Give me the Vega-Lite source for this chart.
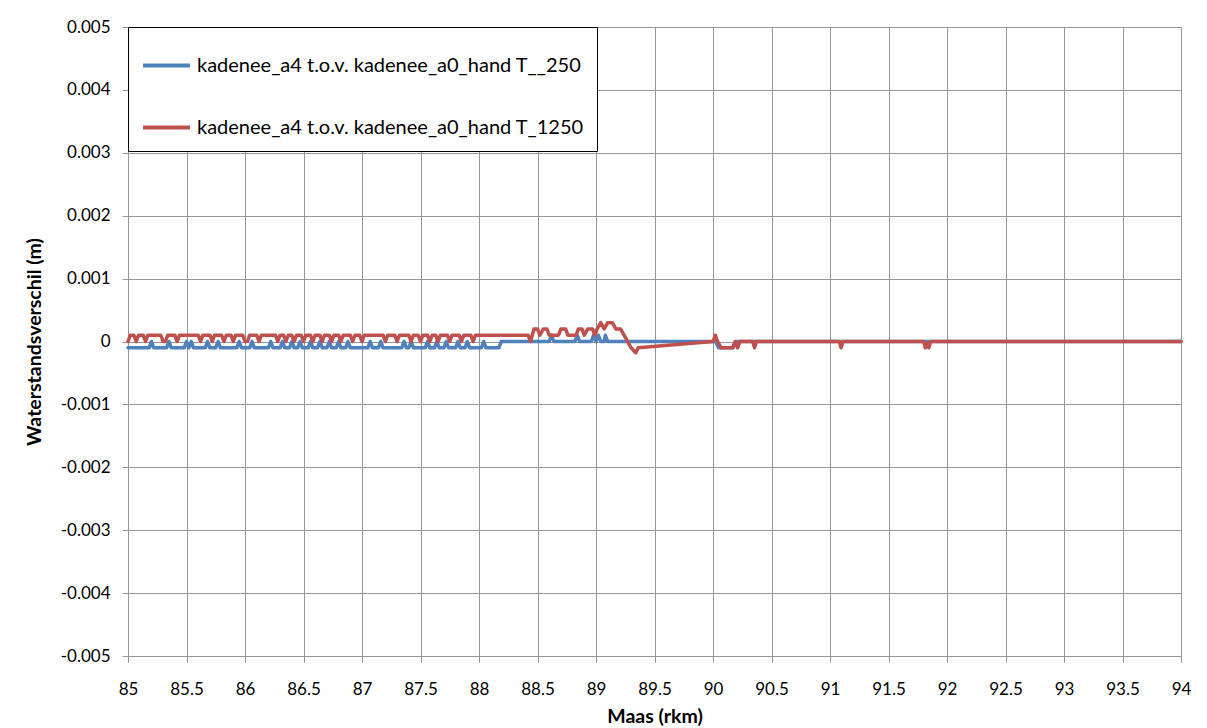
{
  "$schema": "https://vega.github.io/schema/vega-lite/v6.json",
  "width": 1053,
  "height": 629,
  "autosize": {"type": "none"},
  "padding": {"left": 128, "top": 27, "right": 26, "bottom": 72},
  "background": "white",
  "config": {
    "font": "Lato",
    "view": {"stroke": null},
    "axis": {
      "gridColor": "#969696",
      "gridWidth": 1,
      "domainColor": "#969696",
      "tickColor": "#969696",
      "tickSize": 6,
      "labelColor": "black",
      "labelFontSize": 17,
      "labelFont": "Lato",
      "titleFont": "Lato",
      "titleFontSize": 19.5,
      "titleFontWeight": "bold",
      "titleColor": "black"
    }
  },
  "data": {
    "values": [
      {"km": 85.00, "reeks": "T__250", "dh": -0.0001},
      {"km": 85.18, "reeks": "T__250", "dh": -0.0001},
      {"km": 85.20, "reeks": "T__250", "dh": 0},
      {"km": 85.22, "reeks": "T__250", "dh": -0.0001},
      {"km": 85.33, "reeks": "T__250", "dh": -0.0001},
      {"km": 85.35, "reeks": "T__250", "dh": 0},
      {"km": 85.37, "reeks": "T__250", "dh": -0.0001},
      {"km": 85.48, "reeks": "T__250", "dh": -0.0001},
      {"km": 85.50, "reeks": "T__250", "dh": 0},
      {"km": 85.52, "reeks": "T__250", "dh": -0.0001},
      {"km": 85.54, "reeks": "T__250", "dh": 0},
      {"km": 85.56, "reeks": "T__250", "dh": -0.0001},
      {"km": 85.66, "reeks": "T__250", "dh": -0.0001},
      {"km": 85.68, "reeks": "T__250", "dh": 0},
      {"km": 85.70, "reeks": "T__250", "dh": -0.0001},
      {"km": 85.75, "reeks": "T__250", "dh": -0.0001},
      {"km": 85.77, "reeks": "T__250", "dh": 0},
      {"km": 85.79, "reeks": "T__250", "dh": -0.0001},
      {"km": 85.93, "reeks": "T__250", "dh": -0.0001},
      {"km": 85.95, "reeks": "T__250", "dh": 0},
      {"km": 85.97, "reeks": "T__250", "dh": -0.0001},
      {"km": 86.04, "reeks": "T__250", "dh": -0.0001},
      {"km": 86.06, "reeks": "T__250", "dh": 0},
      {"km": 86.08, "reeks": "T__250", "dh": -0.0001},
      {"km": 86.20, "reeks": "T__250", "dh": -0.0001},
      {"km": 86.22, "reeks": "T__250", "dh": 0},
      {"km": 86.24, "reeks": "T__250", "dh": -0.0001},
      {"km": 86.30, "reeks": "T__250", "dh": -0.0001},
      {"km": 86.32, "reeks": "T__250", "dh": 0},
      {"km": 86.34, "reeks": "T__250", "dh": -0.0001},
      {"km": 86.38, "reeks": "T__250", "dh": -0.0001},
      {"km": 86.40, "reeks": "T__250", "dh": 0},
      {"km": 86.42, "reeks": "T__250", "dh": -0.0001},
      {"km": 86.45, "reeks": "T__250", "dh": -0.0001},
      {"km": 86.47, "reeks": "T__250", "dh": 0},
      {"km": 86.49, "reeks": "T__250", "dh": -0.0001},
      {"km": 86.54, "reeks": "T__250", "dh": -0.0001},
      {"km": 86.56, "reeks": "T__250", "dh": 0},
      {"km": 86.58, "reeks": "T__250", "dh": -0.0001},
      {"km": 86.62, "reeks": "T__250", "dh": -0.0001},
      {"km": 86.64, "reeks": "T__250", "dh": 0},
      {"km": 86.66, "reeks": "T__250", "dh": -0.0001},
      {"km": 86.70, "reeks": "T__250", "dh": -0.0001},
      {"km": 86.72, "reeks": "T__250", "dh": 0},
      {"km": 86.74, "reeks": "T__250", "dh": -0.0001},
      {"km": 86.78, "reeks": "T__250", "dh": -0.0001},
      {"km": 86.80, "reeks": "T__250", "dh": 0},
      {"km": 86.82, "reeks": "T__250", "dh": -0.0001},
      {"km": 86.86, "reeks": "T__250", "dh": -0.0001},
      {"km": 86.88, "reeks": "T__250", "dh": 0},
      {"km": 86.90, "reeks": "T__250", "dh": -0.0001},
      {"km": 87.05, "reeks": "T__250", "dh": -0.0001},
      {"km": 87.07, "reeks": "T__250", "dh": 0},
      {"km": 87.09, "reeks": "T__250", "dh": -0.0001},
      {"km": 87.14, "reeks": "T__250", "dh": -0.0001},
      {"km": 87.16, "reeks": "T__250", "dh": 0},
      {"km": 87.18, "reeks": "T__250", "dh": -0.0001},
      {"km": 87.34, "reeks": "T__250", "dh": -0.0001},
      {"km": 87.36, "reeks": "T__250", "dh": 0},
      {"km": 87.38, "reeks": "T__250", "dh": -0.0001},
      {"km": 87.40, "reeks": "T__250", "dh": -0.0001},
      {"km": 87.42, "reeks": "T__250", "dh": 0},
      {"km": 87.44, "reeks": "T__250", "dh": -0.0001},
      {"km": 87.54, "reeks": "T__250", "dh": -0.0001},
      {"km": 87.56, "reeks": "T__250", "dh": 0},
      {"km": 87.58, "reeks": "T__250", "dh": -0.0001},
      {"km": 87.62, "reeks": "T__250", "dh": -0.0001},
      {"km": 87.64, "reeks": "T__250", "dh": 0},
      {"km": 87.66, "reeks": "T__250", "dh": -0.0001},
      {"km": 87.70, "reeks": "T__250", "dh": -0.0001},
      {"km": 87.72, "reeks": "T__250", "dh": 0},
      {"km": 87.74, "reeks": "T__250", "dh": -0.0001},
      {"km": 87.80, "reeks": "T__250", "dh": -0.0001},
      {"km": 87.82, "reeks": "T__250", "dh": 0},
      {"km": 87.84, "reeks": "T__250", "dh": -0.0001},
      {"km": 87.88, "reeks": "T__250", "dh": -0.0001},
      {"km": 87.90, "reeks": "T__250", "dh": 0},
      {"km": 87.92, "reeks": "T__250", "dh": -0.0001},
      {"km": 88.02, "reeks": "T__250", "dh": -0.0001},
      {"km": 88.04, "reeks": "T__250", "dh": 0},
      {"km": 88.06, "reeks": "T__250", "dh": -0.0001},
      {"km": 88.17, "reeks": "T__250", "dh": -0.0001},
      {"km": 88.19, "reeks": "T__250", "dh": 0},
      {"km": 88.60, "reeks": "T__250", "dh": 0},
      {"km": 88.62, "reeks": "T__250", "dh": 0.0001},
      {"km": 88.64, "reeks": "T__250", "dh": 0},
      {"km": 88.82, "reeks": "T__250", "dh": 0},
      {"km": 88.84, "reeks": "T__250", "dh": 0.0001},
      {"km": 88.86, "reeks": "T__250", "dh": 0},
      {"km": 88.96, "reeks": "T__250", "dh": 0},
      {"km": 88.98, "reeks": "T__250", "dh": 0.0001},
      {"km": 89.00, "reeks": "T__250", "dh": 0},
      {"km": 89.02, "reeks": "T__250", "dh": 0.0001},
      {"km": 89.04, "reeks": "T__250", "dh": 0},
      {"km": 89.07, "reeks": "T__250", "dh": 0},
      {"km": 89.08, "reeks": "T__250", "dh": 0.0001},
      {"km": 89.10, "reeks": "T__250", "dh": 0},
      {"km": 90.02, "reeks": "T__250", "dh": 0},
      {"km": 90.05, "reeks": "T__250", "dh": -0.0001},
      {"km": 90.17, "reeks": "T__250", "dh": -0.0001},
      {"km": 90.19, "reeks": "T__250", "dh": 0},
      {"km": 94.00, "reeks": "T__250", "dh": 0},

      {"km": 85.00, "reeks": "T_1250", "dh": 0},
      {"km": 85.02, "reeks": "T_1250", "dh": 0.0001},
      {"km": 85.05, "reeks": "T_1250", "dh": 0.0001},
      {"km": 85.07, "reeks": "T_1250", "dh": 0},
      {"km": 85.09, "reeks": "T_1250", "dh": 0.0001},
      {"km": 85.13, "reeks": "T_1250", "dh": 0.0001},
      {"km": 85.15, "reeks": "T_1250", "dh": 0},
      {"km": 85.17, "reeks": "T_1250", "dh": 0.0001},
      {"km": 85.28, "reeks": "T_1250", "dh": 0.0001},
      {"km": 85.30, "reeks": "T_1250", "dh": 0},
      {"km": 85.32, "reeks": "T_1250", "dh": 0},
      {"km": 85.34, "reeks": "T_1250", "dh": 0.0001},
      {"km": 85.40, "reeks": "T_1250", "dh": 0.0001},
      {"km": 85.42, "reeks": "T_1250", "dh": 0},
      {"km": 85.44, "reeks": "T_1250", "dh": 0.0001},
      {"km": 85.60, "reeks": "T_1250", "dh": 0.0001},
      {"km": 85.62, "reeks": "T_1250", "dh": 0},
      {"km": 85.64, "reeks": "T_1250", "dh": 0.0001},
      {"km": 85.70, "reeks": "T_1250", "dh": 0.0001},
      {"km": 85.72, "reeks": "T_1250", "dh": 0},
      {"km": 85.74, "reeks": "T_1250", "dh": 0.0001},
      {"km": 85.80, "reeks": "T_1250", "dh": 0.0001},
      {"km": 85.82, "reeks": "T_1250", "dh": 0},
      {"km": 85.84, "reeks": "T_1250", "dh": 0.0001},
      {"km": 85.88, "reeks": "T_1250", "dh": 0.0001},
      {"km": 85.90, "reeks": "T_1250", "dh": 0},
      {"km": 85.92, "reeks": "T_1250", "dh": 0.0001},
      {"km": 85.98, "reeks": "T_1250", "dh": 0.0001},
      {"km": 86.00, "reeks": "T_1250", "dh": 0},
      {"km": 86.02, "reeks": "T_1250", "dh": 0},
      {"km": 86.04, "reeks": "T_1250", "dh": 0.0001},
      {"km": 86.10, "reeks": "T_1250", "dh": 0.0001},
      {"km": 86.12, "reeks": "T_1250", "dh": 0},
      {"km": 86.14, "reeks": "T_1250", "dh": 0.0001},
      {"km": 86.26, "reeks": "T_1250", "dh": 0.0001},
      {"km": 86.28, "reeks": "T_1250", "dh": 0},
      {"km": 86.30, "reeks": "T_1250", "dh": 0.0001},
      {"km": 86.33, "reeks": "T_1250", "dh": 0.0001},
      {"km": 86.35, "reeks": "T_1250", "dh": 0},
      {"km": 86.37, "reeks": "T_1250", "dh": 0.0001},
      {"km": 86.40, "reeks": "T_1250", "dh": 0.0001},
      {"km": 86.42, "reeks": "T_1250", "dh": 0},
      {"km": 86.44, "reeks": "T_1250", "dh": 0.0001},
      {"km": 86.48, "reeks": "T_1250", "dh": 0.0001},
      {"km": 86.50, "reeks": "T_1250", "dh": 0},
      {"km": 86.52, "reeks": "T_1250", "dh": 0.0001},
      {"km": 86.56, "reeks": "T_1250", "dh": 0.0001},
      {"km": 86.58, "reeks": "T_1250", "dh": 0},
      {"km": 86.60, "reeks": "T_1250", "dh": 0.0001},
      {"km": 86.64, "reeks": "T_1250", "dh": 0.0001},
      {"km": 86.66, "reeks": "T_1250", "dh": 0},
      {"km": 86.68, "reeks": "T_1250", "dh": 0.0001},
      {"km": 86.72, "reeks": "T_1250", "dh": 0.0001},
      {"km": 86.74, "reeks": "T_1250", "dh": 0},
      {"km": 86.76, "reeks": "T_1250", "dh": 0.0001},
      {"km": 86.80, "reeks": "T_1250", "dh": 0.0001},
      {"km": 86.82, "reeks": "T_1250", "dh": 0},
      {"km": 86.84, "reeks": "T_1250", "dh": 0.0001},
      {"km": 86.90, "reeks": "T_1250", "dh": 0.0001},
      {"km": 86.92, "reeks": "T_1250", "dh": 0},
      {"km": 86.94, "reeks": "T_1250", "dh": 0.0001},
      {"km": 86.98, "reeks": "T_1250", "dh": 0.0001},
      {"km": 87.00, "reeks": "T_1250", "dh": 0},
      {"km": 87.02, "reeks": "T_1250", "dh": 0.0001},
      {"km": 87.18, "reeks": "T_1250", "dh": 0.0001},
      {"km": 87.20, "reeks": "T_1250", "dh": 0},
      {"km": 87.22, "reeks": "T_1250", "dh": 0.0001},
      {"km": 87.28, "reeks": "T_1250", "dh": 0.0001},
      {"km": 87.30, "reeks": "T_1250", "dh": 0},
      {"km": 87.32, "reeks": "T_1250", "dh": 0.0001},
      {"km": 87.40, "reeks": "T_1250", "dh": 0.0001},
      {"km": 87.42, "reeks": "T_1250", "dh": 0},
      {"km": 87.44, "reeks": "T_1250", "dh": 0.0001},
      {"km": 87.48, "reeks": "T_1250", "dh": 0.0001},
      {"km": 87.50, "reeks": "T_1250", "dh": 0},
      {"km": 87.52, "reeks": "T_1250", "dh": 0.0001},
      {"km": 87.56, "reeks": "T_1250", "dh": 0.0001},
      {"km": 87.58, "reeks": "T_1250", "dh": 0},
      {"km": 87.60, "reeks": "T_1250", "dh": 0.0001},
      {"km": 87.63, "reeks": "T_1250", "dh": 0.0001},
      {"km": 87.65, "reeks": "T_1250", "dh": 0},
      {"km": 87.67, "reeks": "T_1250", "dh": 0.0001},
      {"km": 87.73, "reeks": "T_1250", "dh": 0.0001},
      {"km": 87.75, "reeks": "T_1250", "dh": 0},
      {"km": 87.77, "reeks": "T_1250", "dh": 0.0001},
      {"km": 87.83, "reeks": "T_1250", "dh": 0.0001},
      {"km": 87.85, "reeks": "T_1250", "dh": 0},
      {"km": 87.87, "reeks": "T_1250", "dh": 0.0001},
      {"km": 87.93, "reeks": "T_1250", "dh": 0.0001},
      {"km": 87.95, "reeks": "T_1250", "dh": 0},
      {"km": 87.97, "reeks": "T_1250", "dh": 0.0001},
      {"km": 88.42, "reeks": "T_1250", "dh": 0.0001},
      {"km": 88.44, "reeks": "T_1250", "dh": 0},
      {"km": 88.47, "reeks": "T_1250", "dh": 0.0002},
      {"km": 88.50, "reeks": "T_1250", "dh": 0.0002},
      {"km": 88.52, "reeks": "T_1250", "dh": 0.0001},
      {"km": 88.55, "reeks": "T_1250", "dh": 0.0002},
      {"km": 88.58, "reeks": "T_1250", "dh": 0.0002},
      {"km": 88.60, "reeks": "T_1250", "dh": 0.0001},
      {"km": 88.68, "reeks": "T_1250", "dh": 0.0001},
      {"km": 88.70, "reeks": "T_1250", "dh": 0.0002},
      {"km": 88.74, "reeks": "T_1250", "dh": 0.0002},
      {"km": 88.76, "reeks": "T_1250", "dh": 0.0001},
      {"km": 88.83, "reeks": "T_1250", "dh": 0.0001},
      {"km": 88.85, "reeks": "T_1250", "dh": 0.0002},
      {"km": 88.88, "reeks": "T_1250", "dh": 0.0002},
      {"km": 88.90, "reeks": "T_1250", "dh": 0.0001},
      {"km": 88.93, "reeks": "T_1250", "dh": 0.0002},
      {"km": 88.97, "reeks": "T_1250", "dh": 0.0002},
      {"km": 88.99, "reeks": "T_1250", "dh": 0.0001},
      {"km": 89.01, "reeks": "T_1250", "dh": 0.0002},
      {"km": 89.04, "reeks": "T_1250", "dh": 0.0003},
      {"km": 89.07, "reeks": "T_1250", "dh": 0.0002},
      {"km": 89.10, "reeks": "T_1250", "dh": 0.0003},
      {"km": 89.14, "reeks": "T_1250", "dh": 0.0003},
      {"km": 89.17, "reeks": "T_1250", "dh": 0.0002},
      {"km": 89.21, "reeks": "T_1250", "dh": 0.0002},
      {"km": 89.24, "reeks": "T_1250", "dh": 0.0001},
      {"km": 89.27, "reeks": "T_1250", "dh": 0},
      {"km": 89.30, "reeks": "T_1250", "dh": -0.0001},
      {"km": 89.34, "reeks": "T_1250", "dh": -0.00018},
      {"km": 89.36, "reeks": "T_1250", "dh": -0.0001},
      {"km": 90.00, "reeks": "T_1250", "dh": 0},
      {"km": 90.02, "reeks": "T_1250", "dh": 0.0001},
      {"km": 90.04, "reeks": "T_1250", "dh": 0},
      {"km": 90.07, "reeks": "T_1250", "dh": -0.0001},
      {"km": 90.17, "reeks": "T_1250", "dh": -0.0001},
      {"km": 90.19, "reeks": "T_1250", "dh": 0},
      {"km": 90.21, "reeks": "T_1250", "dh": -0.0001},
      {"km": 90.23, "reeks": "T_1250", "dh": 0},
      {"km": 90.34, "reeks": "T_1250", "dh": 0},
      {"km": 90.355, "reeks": "T_1250", "dh": -0.0001},
      {"km": 90.37, "reeks": "T_1250", "dh": 0},
      {"km": 91.08, "reeks": "T_1250", "dh": 0},
      {"km": 91.095, "reeks": "T_1250", "dh": -0.0001},
      {"km": 91.11, "reeks": "T_1250", "dh": 0},
      {"km": 91.80, "reeks": "T_1250", "dh": 0},
      {"km": 91.815, "reeks": "T_1250", "dh": -0.0001},
      {"km": 91.83, "reeks": "T_1250", "dh": -0.00003},
      {"km": 91.845, "reeks": "T_1250", "dh": -0.0001},
      {"km": 91.86, "reeks": "T_1250", "dh": 0},
      {"km": 94.00, "reeks": "T_1250", "dh": 0}
    ]
  },
  "encoding": {
    "x": {
      "field": "km",
      "type": "quantitative",
      "title": "Maas (rkm)",
      "scale": {"domain": [85, 94], "nice": false, "zero": false},
      "axis": {
        "values": [85, 85.5, 86, 86.5, 87, 87.5, 88, 88.5, 89, 89.5, 90, 90.5, 91, 91.5, 92, 92.5, 93, 93.5, 94],
        "labelExpr": "format(datum.value, '~g')",
        "labelPadding": 19,
        "titlePadding": 10,
        "labelFlush": false,
        "labelOverlap": false
      }
    },
    "y": {
      "field": "dh",
      "type": "quantitative",
      "title": "Waterstandsverschil (m)",
      "scale": {"domain": [-0.005, 0.005], "nice": false},
      "axis": {
        "values": [-0.005, -0.004, -0.003, -0.002, -0.001, 0, 0.001, 0.002, 0.003, 0.004, 0.005],
        "labelExpr": "datum.value == 0 ? '0' : replace(format(datum.value, '.3f'), '−', '-')",
        "labelPadding": 12,
        "titlePadding": 16,
        "labelFlush": false,
        "labelOverlap": false
      }
    },
    "color": {
      "field": "reeks",
      "type": "nominal",
      "scale": {"domain": ["T__250", "T_1250"], "range": ["#4F81BD", "#C0504D"]},
      "legend": {
        "title": null,
        "orient": "none",
        "legendX": 0,
        "legendY": 0,
        "labelExpr": "'kadenee_a4 t.o.v. kadenee_a0_hand ' + datum.label",
        "labelFontSize": 20,
        "labelFont": "Lato",
        "labelColor": "black",
        "labelLimit": 0,
        "labelOffset": 5,
        "symbolType": "stroke",
        "symbolSize": 2200,
        "symbolStrokeWidth": 4,
        "rowPadding": 26,
        "padding": 13,
        "strokeColor": "black",
        "fillColor": "white"
      }
    }
  },
  "layer": [
    {
      "transform": [{"filter": "datum.reeks == 'T__250'"}],
      "mark": {"type": "line", "strokeWidth": 3.5, "strokeJoin": "round", "strokeCap": "round"}
    },
    {
      "transform": [{"filter": "datum.reeks == 'T_1250'"}],
      "mark": {"type": "line", "strokeWidth": 3.5, "strokeJoin": "round", "strokeCap": "round"}
    }
  ]
}
